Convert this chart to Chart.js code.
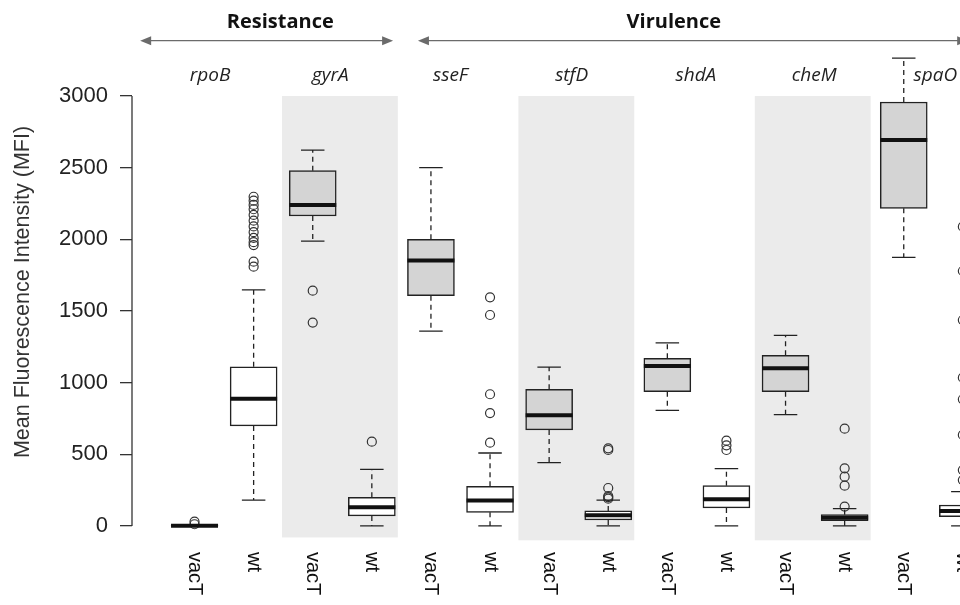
<!DOCTYPE html>
<html>
<head>
<meta charset="utf-8">
<script src="https://cdn.jsdelivr.net/npm/chart.js@4.4.1/dist/chart.umd.min.js"></script>
<style>
  html, body { margin: 0; padding: 0; overflow: hidden; background: #fff; }
  #wrap { width: 1000px; height: 605px; }
</style>
</head>
<body>
<div id="wrap"><canvas id="chart"></canvas></div>
<script>
const genes = ['rpoB', 'gyrA', 'sseF', 'stfD', 'shdA', 'cheM', 'spaO'];
const strains = ['vacT', 'wt'];
const yTicks = [0, 500, 1000, 1500, 2000, 2500, 3000];
const groups = ['Resistance', 'Virulence'];
const shadedGenes = ['gyrA', 'stfD', 'cheM'];

// box stats per gene (lower whisker, q1, median, q3, upper whisker)
const vacTLow = [0, 1988, 1360, 442, 807, 777, 1874];
const vacTQ1 = [0, 2163, 1607, 670, 937, 937, 2216];
const vacTMed = [2, 2240, 1853, 772, 1116, 1100, 2693];
const vacTQ3 = [5, 2479, 2000, 954, 1170, 1191, 2958];
const vacTHigh = [8, 2623, 2500, 1109, 1277, 1330, 3265];
const vacTOut = [[30, 12], [1642, 1419], [], [], [], [], []];

const wtLow = [181, 0, 0, 0, 0, 0, 0];
const wtQ1 = [698, 70, 95, 42, 126, 37, 65];
const wtMed = [888, 130, 177, 74, 186, 58, 105];
const wtQ3 = [1111, 200, 277, 105, 281, 79, 146];
const wtHigh = [1647, 395, 509, 181, 400, 121, 240];
const wtOut = [
  [2297, 2270, 2240, 2210, 2170, 2130, 2090, 2050, 2010, 1980, 1960, 1844, 1809],
  [588],
  [1595, 1472, 919, 788, 581],
  [542, 530, 265, 209, 200, 190],
  [595, 563, 530],
  [679, 402, 344, 281, 135],
  [2088, 1779, 1437, 1035, 884, 635, 390, 320]
];

const xOf = (g, s) => 2 * g + s + 1;

const stats = [
  { low: vacTLow, q1: vacTQ1, med: vacTMed, q3: vacTQ3, high: vacTHigh, out: vacTOut },
  { low: wtLow, q1: wtQ1, med: wtMed, q3: wtQ3, high: wtHigh, out: wtOut }
];

const BOX_W = 47;

// annotation layout (x in category units)
const groupArrows = [[0.08, 4.36], [4.78, 14.09]];
const groupLabelX = [2.45, 9.11];
const geneNudge = [-14, -12, -10, -7, -1, -1, 2];
const bandBottom = [-80, -100, -100];

const boxPlot = {
  id: 'boxPlot',
  beforeDatasetsDraw(chart) {
    const { ctx } = chart;
    const xs = chart.scales.x, ys = chart.scales.y;
    ctx.save();
    ctx.fillStyle = '#ebebeb';
    shadedGenes.forEach((name, k) => {
      const g = genes.indexOf(name);
      const x0 = xs.getPixelForValue(xOf(g, 0) - 0.52);
      const x1 = xs.getPixelForValue(xOf(g, 1) + 0.44);
      const y0 = ys.getPixelForValue(3000);
      const y1 = ys.getPixelForValue(bandBottom[k]);
      ctx.fillRect(x0, y0, x1 - x0, y1 - y0);
    });
    ctx.restore();
  },
  afterDatasetsDraw(chart) {
    const { ctx } = chart;
    const xs = chart.scales.x, ys = chart.scales.y;
    ctx.save();
    ctx.strokeStyle = '#222';
    stats.forEach((st, s) => {
      genes.forEach((name, g) => {
        const cx = xs.getPixelForValue(xOf(g, s));
        const capW = BOX_W / 4;
        // whiskers
        ctx.lineWidth = 1.3;
        ctx.setLineDash([5, 4]);
        ctx.beginPath();
        ctx.moveTo(cx, ys.getPixelForValue(st.q3[g]));
        ctx.lineTo(cx, ys.getPixelForValue(st.high[g]));
        ctx.moveTo(cx, ys.getPixelForValue(st.q1[g]));
        ctx.lineTo(cx, ys.getPixelForValue(st.low[g]));
        ctx.stroke();
        ctx.setLineDash([]);
        ctx.beginPath();
        [st.high[g], st.low[g]].forEach(v => {
          const y = ys.getPixelForValue(v);
          ctx.moveTo(cx - capW, y);
          ctx.lineTo(cx + capW, y);
        });
        ctx.stroke();
        // median
        ctx.lineWidth = 4;
        ctx.strokeStyle = '#111';
        ctx.beginPath();
        const ym = ys.getPixelForValue(st.med[g]);
        ctx.moveTo(cx - BOX_W / 2, ym);
        ctx.lineTo(cx + BOX_W / 2, ym);
        ctx.stroke();
        ctx.strokeStyle = '#222';
      });
    });
    ctx.restore();
  },
  afterDraw(chart) {
    const { ctx, chartArea } = chart;
    const xs = chart.scales.x, ys = chart.scales.y;
    ctx.save();
    // y axis line, only between end ticks
    ctx.strokeStyle = '#333';
    ctx.lineWidth = 1.3;
    ctx.beginPath();
    ctx.moveTo(chartArea.left, ys.getPixelForValue(yTicks[0]));
    ctx.lineTo(chartArea.left, ys.getPixelForValue(yTicks[yTicks.length - 1]));
    ctx.stroke();

    // group arrows and titles
    ctx.fillStyle = '#6b6b6b';
    ctx.strokeStyle = '#6b6b6b';
    const ay = 40.7;
    groupArrows.forEach(([a, b]) => {
      const x0 = xs.getPixelForValue(a), x1 = xs.getPixelForValue(b);
      ctx.lineWidth = 1.3;
      ctx.beginPath();
      ctx.moveTo(x0 + 8, ay);
      ctx.lineTo(x1 - 8, ay);
      ctx.stroke();
      ctx.beginPath();
      ctx.moveTo(x0, ay); ctx.lineTo(x0 + 11, ay - 4.5); ctx.lineTo(x0 + 11, ay + 4.5); ctx.closePath();
      ctx.moveTo(x1, ay); ctx.lineTo(x1 - 11, ay - 4.5); ctx.lineTo(x1 - 11, ay + 4.5); ctx.closePath();
      ctx.fill();
    });
    ctx.fillStyle = '#111';
    ctx.font = 'bold 20px "Open Sans"';
    ctx.textAlign = 'center';
    ctx.textBaseline = 'alphabetic';
    groups.forEach((name, i) => {
      ctx.fillText(name, xs.getPixelForValue(groupLabelX[i]), 28);
    });

    // gene names
    ctx.font = 'italic 19px "Open Sans"';
    ctx.fillStyle = '#222';
    genes.forEach((name, g) => {
      const x = xs.getPixelForValue((xOf(g, 0) + xOf(g, 1)) / 2) + geneNudge[g];
      ctx.fillText(name, x, 81);
    });

    // strain labels, rotated clockwise
    ctx.font = '20px "Liberation Sans"';
    ctx.fillStyle = '#111';
    ctx.textAlign = 'left';
    ctx.textBaseline = 'middle';
    genes.forEach((name, g) => {
      strains.forEach((st, s) => {
        ctx.save();
        ctx.translate(xs.getPixelForValue(xOf(g, s)), 552);
        ctx.rotate(Math.PI / 2);
        ctx.fillText(st, 0, 0);
        ctx.restore();
      });
    });
    ctx.restore();
  }
};

const boxData = s => genes.map((name, g) => ({ x: xOf(g, s), y: [stats[s].q1[g], stats[s].q3[g]] }));
const outData = s => genes.flatMap((name, g) => stats[s].out[g].map(v => ({ x: xOf(g, s), y: v })));

new Chart(document.getElementById('chart'), {
  type: 'bar',
  data: {
    datasets: [
      {
        label: 'vacT',
        data: boxData(0),
        backgroundColor: '#d4d4d4',
        borderColor: '#222',
        borderWidth: 1.5,
        borderSkipped: false,
        barThickness: BOX_W,
        grouped: false
      },
      {
        label: 'wt',
        data: boxData(1),
        backgroundColor: '#ffffff',
        borderColor: '#222',
        borderWidth: 1.5,
        borderSkipped: false,
        barThickness: BOX_W,
        grouped: false
      },
      {
        type: 'scatter',
        label: 'vacT outliers',
        data: outData(0),
        pointRadius: 4.5,
        pointBorderWidth: 1.2,
        borderColor: '#333',
        backgroundColor: 'rgba(0,0,0,0)'
      },
      {
        type: 'scatter',
        label: 'wt outliers',
        data: outData(1),
        pointRadius: 4.5,
        pointBorderWidth: 1.2,
        borderColor: '#333',
        backgroundColor: 'rgba(0,0,0,0)'
      }
    ]
  },
  options: {
    responsive: true,
    maintainAspectRatio: false,
    animation: false,
    layout: { padding: { top: 43.7, bottom: 64.7, left: 0, right: 7.6 } },
    plugins: { legend: { display: false }, tooltip: { enabled: false } },
    scales: {
      x: {
        type: 'linear',
        offset: false,
        min: -0.058,
        max: 14.5,
        display: false
      },
      y: {
        min: -100,
        max: 3365,
        afterBuildTicks: scale => { scale.ticks = yTicks.map(v => ({ value: v })); },
        afterFit: scale => { scale.width = 132; },
        grid: { drawOnChartArea: false, drawTicks: true, tickLength: 12, color: '#333', lineWidth: 1.3 },
        border: { display: false },
        ticks: {
          padding: 12,
          color: '#222',
          font: { family: 'Liberation Sans', size: 22 },
          callback: v => String(v)
        },
        title: {
          display: true,
          text: 'Mean Fluorescence Intensity (MFI)',
          color: '#333',
          padding: { top: 10, bottom: 0 },
          font: { family: 'Liberation Sans', size: 21.5 }
        }
      }
    }
  },
  plugins: [boxPlot]
});
</script>
</body>
</html>
